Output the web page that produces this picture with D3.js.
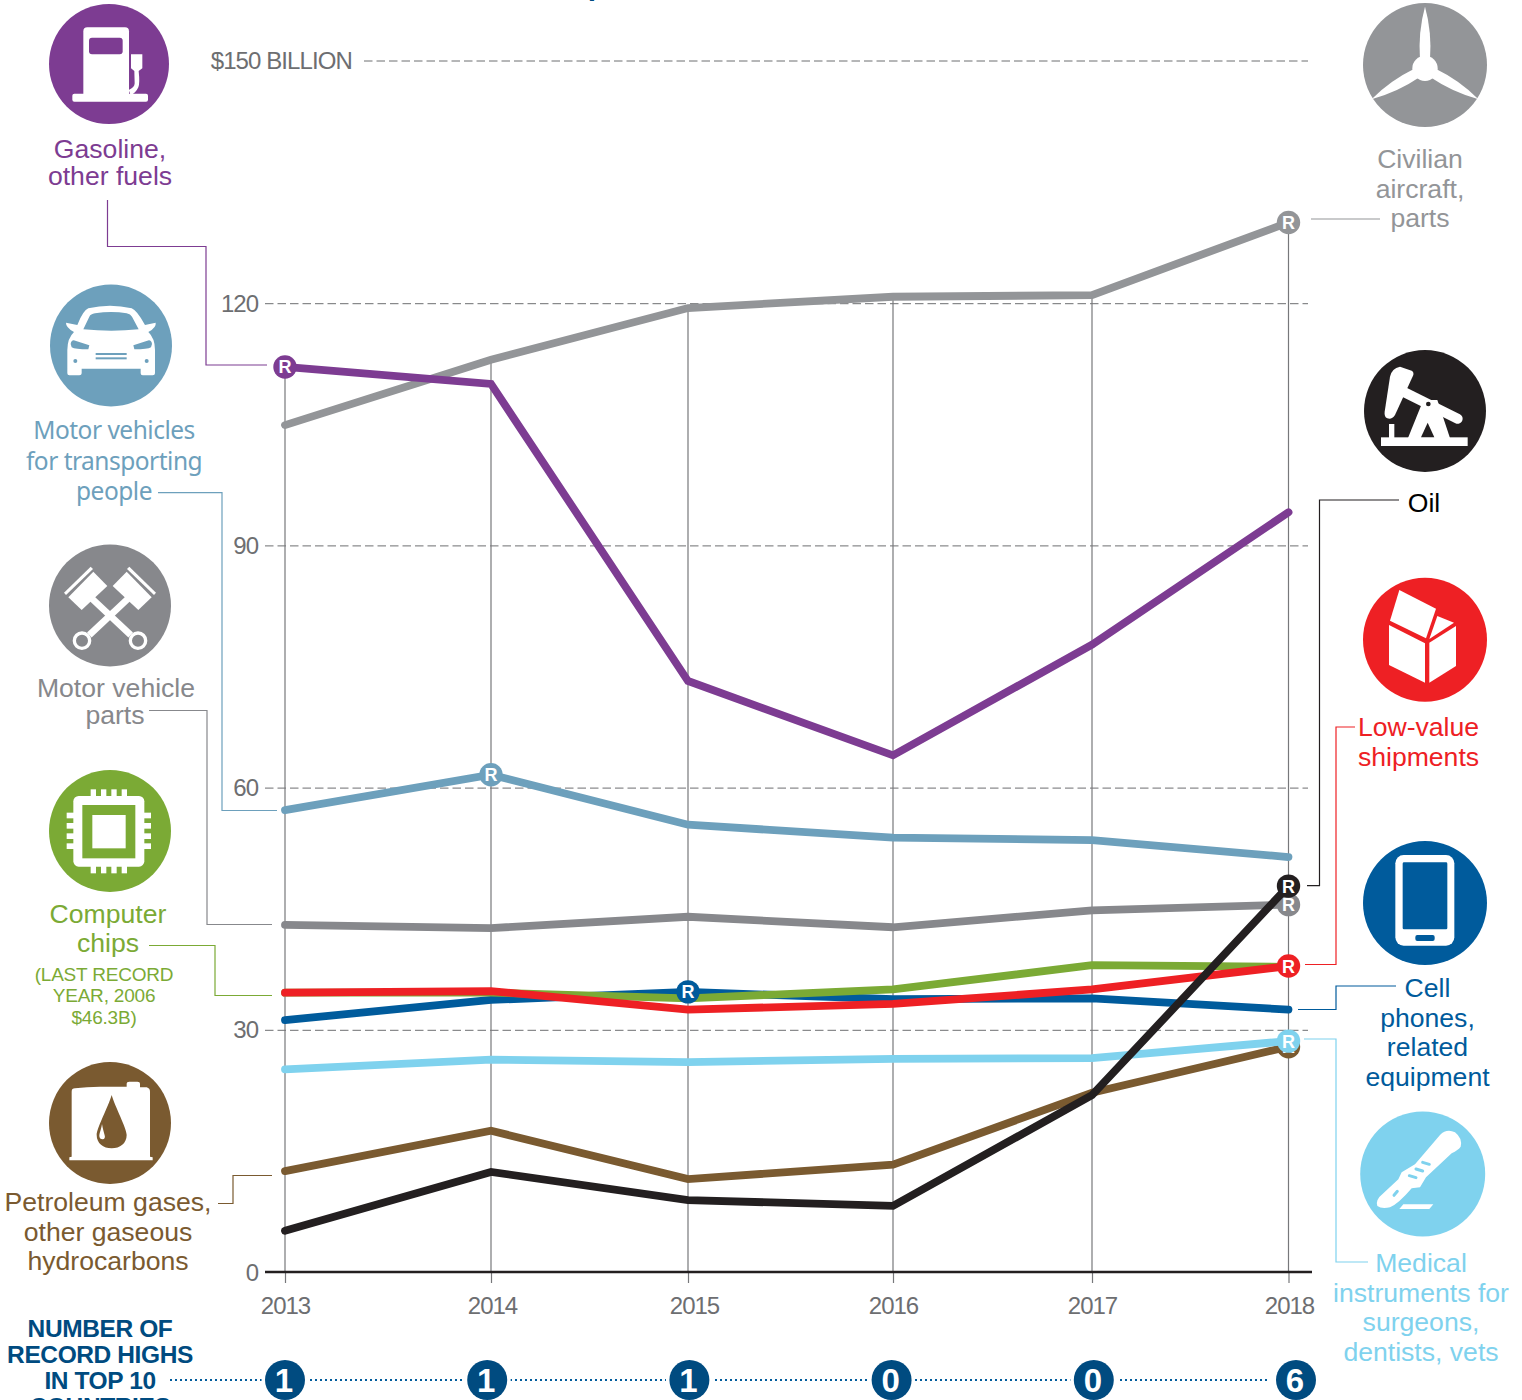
<!DOCTYPE html>
<html><head><meta charset="utf-8">
<script src="https://cdn.jsdelivr.net/npm/d3@7"></script>
<style>
html,body{margin:0;padding:0;background:#fff;overflow:hidden}
svg{display:block;font-family:"Liberation Sans",Arial,sans-serif}
</style></head><body>
<svg id="c" width="1522" height="1400"></svg>
<script>
const years=[2013,2014,2015,2016,2017,2018];
const aircraft=[104.9,113,119.4,120.8,121,130];
const gasoline=[112.1,110,73.2,64,77.7,94.1];
const vehicles=[57.2,61.6,55.4,53.8,53.5,51.4];
const parts=[43,42.6,44,42.7,44.8,45.5];
const chips=[34.6,34.6,33.9,35,38,37.8];
const cell=[31.2,33.7,34.7,33.8,33.9,32.5];
const lowvalue=[34.6,34.8,32.5,33.2,35,37.9];
const petroleum=[12.5,17.5,11.5,13.3,22.2,27.9];
const medical=[25.1,26.3,26,26.4,26.5,28.6];
const oil=[5.1,12.4,8.9,8.2,21.9,47.8];
const yTicks=[0,30,60,90,120,150];
const recordCounts=[1,1,1,0,0,6];

const C={aircraft:"#939598",gasoline:"#7D3C92",vehicles:"#6DA0BC",parts:"#87888C",chips:"#7BAA35",
 cell:"#005B9C",low:"#EE2024",pet:"#7A5A30",med:"#7FD2EE",oil:"#231F20",axis:"#6D6E71",navy:"#004B80"};

const seriesList=[
 {v:aircraft,c:C.aircraft,rec:[2018]},
 {v:gasoline,c:C.gasoline,rec:[2013]},
 {v:vehicles,c:C.vehicles,rec:[2014]},
 {v:parts,c:C.parts,rec:[2018]},
 {v:cell,c:C.cell,rec:[]},
 {v:chips,c:C.chips,rec:[]},
 {v:lowvalue,c:C.low,rec:[2018]},
 {v:cell,c:C.cell,rec:[2015],markerOnly:true},
 {v:petroleum,c:C.pet,rec:[2018]},
 {v:medical,c:C.med,rec:[2018]},
 {v:oil,c:C.oil,rec:[2018]}
];

const svg=d3.select("#c");
const x=d3.scaleOrdinal(years,[285,491,688,893,1092,1288.5]);
const xLabel=d3.scaleOrdinal(years,[285,492,694,893,1092,1289]);
const xCount=d3.scalePoint(years,[285,1296]);
const y=d3.scaleLinear([0,150],[1272,61]);

// title fragment, cut off by the top edge of the picture
svg.append("text").attr("x",597).attr("y",-5).attr("text-anchor","middle").attr("font-size",30).attr("font-weight",700).attr("fill",C.navy).text("p");

// horizontal grid + y labels
const yAxis=svg.append("g").attr("transform","translate(265,0)")
 .call(d3.axisLeft(y).tickValues(yTicks).tickSize(-1043).tickPadding(7).tickFormat(d=>d===150?"$150 BILLION":d));
yAxis.select(".domain").remove();
yAxis.selectAll("line").attr("stroke",C.axis).attr("stroke-width",1).attr("stroke-dasharray","8.5 4");
yAxis.selectAll("text").attr("font-size",24).attr("fill",C.axis).attr("font-family","inherit").attr("letter-spacing",-1).attr("dy",null).attr("y",8);
yAxis.selectAll(".tick").filter(d=>d===0).select("line").remove();
const t150=yAxis.selectAll(".tick").filter(d=>d===150);
t150.attr("transform",`translate(99,${y(150)})`);
t150.select("line").attr("x2",944);
t150.select("text").attr("x",-12).attr("letter-spacing",-.9);

// vertical year lines
svg.append("g").selectAll("line").data(years).join("line")
 .attr("x1",d=>x(d)).attr("x2",d=>x(d))
 .attr("y1",(d,i)=>y(d3.max(seriesList,s=>s.v[i])))
 .attr("y2",y(0)).attr("stroke","#77787B").attr("stroke-width",1.2);

// x axis
const xAxis=svg.append("g").attr("transform",`translate(0,${y(0)})`)
 .call(d3.axisBottom(x).tickValues(years).tickSize(11).tickPadding(14).tickFormat(d=>d));
xAxis.select(".domain").remove();
xAxis.selectAll("line").attr("stroke","#77787B").attr("stroke-width",1.2);
xAxis.selectAll("text").attr("x",d=>xLabel(d)-x(d)).attr("font-size",24).attr("fill",C.axis).attr("font-family","inherit").attr("letter-spacing",-1);
svg.append("line").attr("x1",265).attr("x2",1312).attr("y1",y(0)).attr("y2",y(0)).attr("stroke",C.oil).attr("stroke-width",2.6);

// series
const line=d3.line().x((d,i)=>x(years[i])).y(d=>y(d));
seriesList.forEach(s=>{
 const g=svg.append("g");
 if(!s.markerOnly) g.append("path").attr("d",line(s.v)).attr("fill","none").attr("stroke",s.c).attr("stroke-width",7.8).attr("stroke-linecap","round").attr("stroke-linejoin","miter");
 const m=g.selectAll("g").data(s.rec).join("g").attr("transform",d=>`translate(${x(d)},${y(s.v[years.indexOf(d)])})`);
 m.append("circle").attr("r",11.7).attr("fill",s.c);
 m.append("text").attr("text-anchor","middle").attr("y",6.5).attr("font-size",18).attr("font-weight",700).attr("fill","#fff").text("R");
});

// connectors
const connectors=[
 ["M107.5,200V246.5H206V365H267",C.gasoline],
 ["M158,492.7H222V810.5H277",C.vehicles],
 ["M149,710.5H207V924.5H272",C.parts],
 ["M149,945.5H215V995.5H272",C.chips],
 ["M218,1203.5H233V1175.5H272",C.pet],
 ["M1311,219H1380",C.aircraft],
 ["M1307,885.7H1319.5V500H1399",C.oil],
 ["M1305,964.5H1336V727H1355",C.low],
 ["M1298,1009.5H1336V986H1396",C.cell],
 ["M1304,1039H1336V1262H1368",C.med]
];
svg.append("g").attr("fill","none").attr("stroke-width",1.2).selectAll("path").data(connectors).join("path")
 .attr("d",d=>d[0]).attr("stroke",d=>d[1]);

// labels
const HV='"Liberation Sans",Arial,sans-serif', MY='"Noto Sans",sans-serif';
const labels=[
 {t:["Gasoline,","other fuels"],x:110,y:[158,185],c:C.gasoline,s:26.6},
 {t:["Civilian","aircraft,","parts"],x:1420,y:[168,198,227],c:C.aircraft,s:26.6},
 {t:["Motor vehicles","for transporting","people"],x:114,y:[439,470,500],c:C.vehicles,s:24.5,f:MY,ls:-.5},
 {t:["Motor vehicle"],x:116,y:[697],c:C.parts,s:26.6},
 {t:["parts"],x:115,y:[724],c:C.parts,s:26.6},
 {t:["Computer","chips"],x:108,y:[923,952],c:C.chips,s:26.6},
 {t:["(LAST RECORD","YEAR, 2006","$46.3B)"],x:104,y:[981,1002,1024],c:C.chips,s:19,ls:-.2},
 {t:["Petroleum gases,","other gaseous","hydrocarbons"],x:108,y:[1211,1241,1270],c:C.pet,s:26.6},
 {t:["Oil"],x:1424,y:[512],c:"#000",s:26.6},
 {t:["Low-value","shipments"],x:1418.5,y:[736,766],c:C.low,s:26.6},
 {t:["Cell","phones,","related","equipment"],x:1427.5,y:[997,1027,1056,1086],c:C.cell,s:26.6},
 {t:["Medical","instruments for","surgeons,","dentists, vets"],x:1421,y:[1272,1302,1331,1361],c:C.med,s:26.6},
 {t:["NUMBER OF","RECORD HIGHS","IN TOP 10","COUNTRIES"],x:100,y:[1337,1363,1389,1415],c:C.navy,s:24.5,w:700,ls:-.4}
];
labels.forEach(l=>{
 svg.append("g").selectAll("text").data(l.t).join("text")
  .attr("x",l.x).attr("y",(d,i)=>l.y[i]).attr("text-anchor","middle").attr("font-size",l.s)
  .attr("fill",l.c).attr("font-family",l.f||HV).attr("font-weight",l.w||400).attr("letter-spacing",l.ls||0).text(d=>d);
});

// record-count row
svg.append("line").attr("x1",170).attr("x2",1270).attr("y1",1380).attr("y2",1380)
 .attr("stroke",C.cell).attr("stroke-width",2).attr("stroke-dasharray","2 3");
const rc=svg.append("g").selectAll("g").data(years).join("g").attr("transform",d=>`translate(${xCount(d)},1380)`);
rc.append("circle").attr("r",20).attr("fill",C.navy).attr("stroke","#fff").attr("stroke-width",7).attr("paint-order","stroke");
rc.append("text").attr("text-anchor","middle").attr("x",-1).attr("y",12).attr("font-size",33).attr("font-weight",700).attr("fill","#fff")
 .text((d,i)=>recordCounts[i]);

// icons
function icon(cx,cy,r,col,ox,oy,draw){
 svg.append("circle").attr("cx",cx).attr("cy",cy).attr("r",r).attr("fill",col);
 const g=svg.append("g").attr("transform",`translate(${ox},${oy}) scale(${1/3})`).attr("fill","#fff");
 draw(g,col);
}
// gasoline pump
icon(109,64,60,C.gasoline,0,0,(g,c)=>{
 g.append("path").attr("d","M262,82H375Q387,82 387,94V285H250V94Q250,82 262,82Z");
 g.append("rect").attr("x",217).attr("y",281).attr("width",227).attr("height",24).attr("rx",6);
 g.append("rect").attr("x",267).attr("y",113).attr("width",101).attr("height",50).attr("rx",9).attr("fill",c);
 g.append("path").attr("d","M393,163H427V205L416,213Q420,250 415,262Q408,278 392,286L386,270Q404,262 404,250L403,213L393,205Z");
});
// car
icon(111,345.5,61,C.vehicles,0,270,(g,c)=>{
 g.append("path").attr("d","M265,115Q330,100 395,115Q410,120 435,165L467,158Q470,172 445,186Q465,205 465,240V310Q465,316 458,316H428Q422,316 422,310V296H245V310Q245,316 238,316H208Q202,316 202,310V240Q202,205 222,186Q197,172 198,158L232,165Q250,120 265,115Z");
 g.append("path").attr("fill",c).attr("d","M250,178L268,140Q272,132 285,130Q335,122 380,130Q392,132 396,140L416,178Q335,186 250,178Z");
 g.append("path").attr("fill",c).attr("d","M212,222Q214,208 226,212L268,226L265,238Q225,238 215,232Z");
 g.append("path").attr("fill",c).attr("d","M456,222Q454,208 442,212L400,226L403,238Q443,238 453,232Z");
 g.append("rect").attr("x",287).attr("y",249).attr("width",93).attr("height",6).attr("fill",c);
 g.append("rect").attr("x",287).attr("y",262).attr("width",93).attr("height",6).attr("fill",c);
 g.append("circle").attr("cx",226).attr("cy",273).attr("r",6).attr("fill",c);
 g.append("circle").attr("cx",440).attr("cy",273).attr("r",6).attr("fill",c);
});
// pistons
icon(110,605.5,61,C.parts,0,270,(g,c)=>{
 [0,1].forEach(k=>{
  const h=g.append("g").attr("transform",k?"translate(660,0) scale(-1,1)":null);
  h.append("path").attr("d","M205,982L280,905L322,948L245,1020Z");
  h.append("path").attr("d","M192,968L272,890L279,897L198,975Z");
  h.append("line").attr("x1",275).attr("y1",985).attr("x2",392).attr("y2",1095).attr("stroke","#fff").attr("stroke-width",20);
  h.append("circle").attr("cx",246).attr("cy",1112).attr("r",23).attr("fill",c).attr("stroke","#fff").attr("stroke-width",10);
 });
});
// chip
icon(110,831,61,C.chips,0,760,(g,c)=>{
 g.append("rect").attr("x",220).attr("y",108).attr("width",213).attr("height",212).attr("rx",16);
 g.append("rect").attr("x",247).attr("y",135).attr("width",159).attr("height",160).attr("fill",c);
 g.append("rect").attr("x",277).attr("y",165).attr("width",100).attr("height",100);
 [272,303,334,365].forEach(p=>{
  g.append("rect").attr("x",p).attr("y",88).attr("width",16).attr("height",22);
  g.append("rect").attr("x",p).attr("y",318).attr("width",16).attr("height",22);
 });
 [158,189,220,250].forEach(p=>{
  g.append("rect").attr("x",200).attr("y",p).attr("width",22).attr("height",17);
  g.append("rect").attr("x",431).attr("y",p).attr("width",22).attr("height",17);
 });
});
// barrel
icon(110,1123,61,C.pet,0,760,(g,c)=>{
 g.append("path").attr("d","M225,985Q215,985 215,995V1190L208,1192V1201H458V1192L450,1190V995Q450,985 440,982H420V972Q420,965 412,965H388Q380,965 380,972V980H300Q260,980 225,985Z");
 g.append("path").attr("fill",c).attr("d","M335,1005C345,1040 380,1105 380,1125C380,1150 360,1165 335,1165C310,1165 290,1150 290,1125C290,1105 325,1040 335,1005Z");
 g.append("path").attr("d","M306,1092C303,1110 298,1120 298,1128C298,1134 302,1138 308,1138C314,1138 316,1132 314,1126C312,1118 308,1105 306,1092Z");
});
// propeller
icon(1425,65,62,C.aircraft,1340,0,g=>{
 [0,120,240].forEach(a=>g.append("path").attr("transform",`rotate(${a} 255 205)`).attr("d","M255,20Q276,95 270,180H240Q234,95 255,20Z"));
 g.append("circle").attr("cx",255).attr("cy",205).attr("r",38);
});
// pump jack
icon(1425,411,61,"#231F20",1340,0,(g,c)=>{
 g.append("rect").attr("x",123).attr("y",1312).attr("width",260).attr("height",26);
 g.append("rect").attr("x",147).attr("y",1272).attr("width",16).attr("height",42);
 g.append("path").attr("d","M250,1200L292,1200L330,1314H204Z");
 g.append("path").attr("fill",c).attr("d","M263,1268L283,1312H243Z");
 g.append("line").attr("x1",190).attr("y1",1175).attr("x2",353).attr("y2",1256).attr("stroke","#fff").attr("stroke-width",30).attr("stroke-linecap","round");
 g.append("path").attr("d","M180,1100L215,1112Q222,1116 220,1125L165,1245Q155,1260 142,1255Q132,1250 134,1235L150,1130Q155,1105 180,1100Z");
 g.append("circle").attr("cx",265).attr("cy",1212).attr("r",7).attr("fill",c);
});
// box
icon(1425,639.7,62,C.low,1340,570,g=>{
 g.append("path").attr("d","M147,165L255,220V338L147,285Z");
 g.append("path").attr("d","M268,218L348,168V288L268,338Z");
 g.append("path").attr("d","M178,60L288,116L258,205L150,152Z");
 g.append("path").attr("d","M292,138L342,158L268,207Z");
});
// phone
icon(1425,903,62,C.cell,1340,570,(g,c)=>{
 g.append("rect").attr("x",166).attr("y",855).attr("width",177).attr("height",272).attr("rx",25);
 g.append("rect").attr("x",188).attr("y",877).attr("width",134).attr("height",201).attr("rx",4).attr("fill",c);
 g.append("rect").attr("x",226).attr("y",1095).attr("width",58).attr("height",18).attr("rx",6).attr("fill",c);
});
// scalpel
icon(1422.7,1174,62.5,C.med,1340,1100,(g,c)=>{
 g.append("path").attr("d","M300,105Q320,85 345,97Q368,115 362,140Q355,150 335,160L258,232L240,262L215,265Q175,312 150,322Q125,328 112,318Q105,300 130,280L175,238L185,217L225,193Z");
 [[258,190],[238,210],[218,230]].forEach(p=>g.append("line").attr("x1",p[0]-10).attr("y1",p[1]-3).attr("x2",p[0]+10).attr("y2",p[1]+3).attr("stroke",c).attr("stroke-width",9).attr("stroke-linecap","round"));
 g.append("line").attr("x1",162).attr("y1",286).attr("x2",172).attr("y2",274).attr("stroke",c).attr("stroke-width",9).attr("stroke-linecap","round");
 g.append("path").attr("d","M190,313H280L268,327H178Z");
});
</script>
</body></html>
